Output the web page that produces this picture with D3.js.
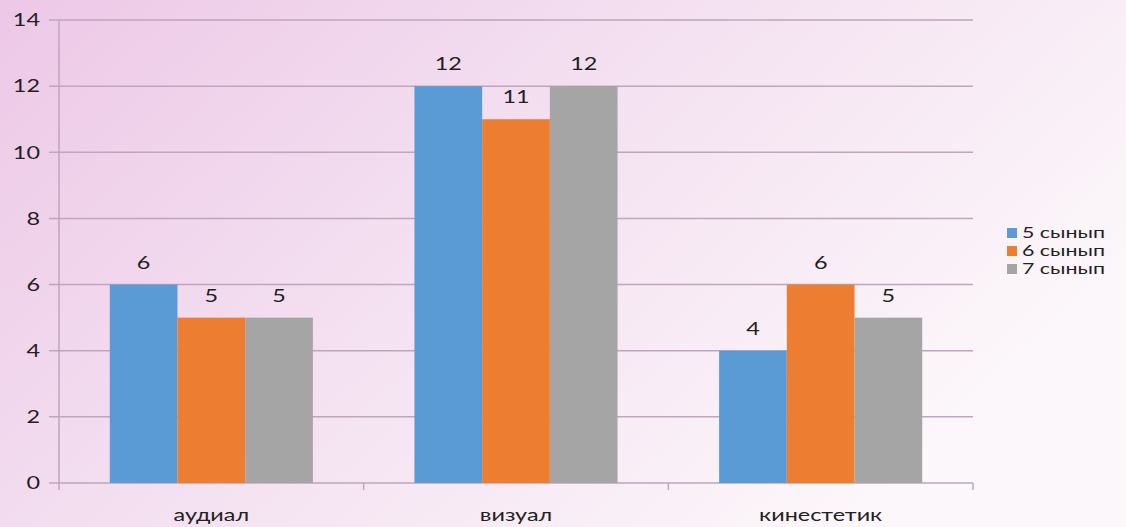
<!DOCTYPE html>
<html>
<head>
<meta charset="utf-8">
<script src="https://cdn.jsdelivr.net/npm/d3@7"></script>
<style>
  html, body { margin: 0; padding: 0; }
  body { width: 1126px; height: 527px; overflow: hidden; }
</style>
</head>
<body>
<div id="chart"></div>
<script>
const categories = ["аудиал", "визуал", "кинестетик"];
const seriesNames = ["5 сынып", "6 сынып", "7 сынып"];
const grade5 = [6, 12, 4];
const grade6 = [5, 11, 6];
const grade7 = [5, 12, 5];
const yTicks = [0, 2, 4, 6, 8, 10, 12, 14];

const colors = ["#5b9bd5", "#ed7d31", "#a5a5a5"];
const series = [grade5, grade6, grade7];

const width = 1126, height = 527;
const margin = { top: 20, right: 153, bottom: 44, left: 59 };
const stretch = 1.3; // the original text looks horizontally widened
const textColor = "#231f22";

const svg = d3.select("#chart").append("svg")
  .attr("width", width)
  .attr("height", height)
  .style("font-family", "Lato, 'Open Sans', sans-serif");

// background gradient (pink on left fading to white on right)
const defs = svg.append("defs");
const grad = defs.append("linearGradient")
  .attr("id", "bg")
  .attr("x1", "0%").attr("y1", "0%")
  .attr("x2", "100%").attr("y2", "50%");
grad.append("stop").attr("offset", "0%").attr("stop-color", "#edc8e7");
grad.append("stop").attr("offset", "45%").attr("stop-color", "#f3def0");
grad.append("stop").attr("offset", "100%").attr("stop-color", "#fcf7fa");
svg.append("rect").attr("width", width).attr("height", height).attr("fill", "url(#bg)");

const x0 = d3.scaleBand()
  .domain(categories)
  .range([margin.left, width - margin.right])
  .padding(0);

const x1 = d3.scaleBand()
  .domain(d3.range(series.length))
  .range([x0.bandwidth() / 6, x0.bandwidth() * 5 / 6])
  .padding(0);

const y = d3.scaleLinear()
  .domain([0, 14])
  .range([height - margin.bottom, margin.top]);

const gridColor = "#bfa5bd";

// place text with horizontal stretch
const place = (sel, fx, fy) => sel.attr("transform", (d, i) => `translate(${fx(d, i)},${fy(d, i)}) scale(${stretch},1)`);

// horizontal gridlines
svg.append("g")
  .selectAll("line")
  .data(yTicks)
  .join("line")
  .attr("x1", margin.left - 10)
  .attr("x2", width - margin.right)
  .attr("y1", d => y(d))
  .attr("y2", d => y(d))
  .attr("stroke", gridColor)
  .attr("stroke-width", 1.5);

// y tick labels
svg.append("g")
  .selectAll("text")
  .data(yTicks)
  .join("text")
  .call(place, () => margin.left - 19, d => y(d))
  .attr("dy", "0.35em")
  .attr("text-anchor", "end")
  .attr("font-size", 18)
  .attr("fill", textColor)
  .text(d => d);

// y axis line
svg.append("line")
  .attr("x1", margin.left).attr("x2", margin.left)
  .attr("y1", y(14)).attr("y2", y(0) + 7)
  .attr("stroke", gridColor)
  .attr("stroke-width", 1.5);

// category boundary ticks
const boundaries = categories.map(c => x0(c)).concat([x0(categories[categories.length - 1]) + x0.bandwidth()]);
svg.append("g")
  .selectAll("line")
  .data(boundaries.slice(1))
  .join("line")
  .attr("x1", d => d).attr("x2", d => d)
  .attr("y1", y(0)).attr("y2", y(0) + 7)
  .attr("stroke", gridColor)
  .attr("stroke-width", 1.5);

// bars
const groups = svg.append("g")
  .selectAll("g")
  .data(categories)
  .join("g")
  .attr("transform", c => `translate(${x0(c)},0)`);

const cells = (c, i) => series.map((s, k) => ({ k, v: s[i] }));

groups.selectAll("rect")
  .data(cells)
  .join("rect")
  .attr("x", d => x1(d.k))
  .attr("width", x1.bandwidth())
  .attr("y", d => y(d.v))
  .attr("height", d => y(0) - y(d.v))
  .attr("fill", d => colors[d.k]);

groups.selectAll("text")
  .data(cells)
  .join("text")
  .call(place, d => x1(d.k) + x1.bandwidth() / 2, d => y(d.v) - 16)
  .attr("text-anchor", "middle")
  .attr("font-size", 18)
  .attr("fill", textColor)
  .text(d => d.v);

// category labels
svg.append("g")
  .selectAll("text")
  .data(categories)
  .join("text")
  .call(place, c => x0(c) + x0.bandwidth() / 2, () => y(0) + 38)
  .attr("text-anchor", "middle")
  .attr("font-size", 18)
  .attr("fill", textColor)
  .text(c => c);

// legend
const legend = svg.append("g")
  .attr("transform", "translate(1007,233)");
const item = legend.selectAll("g")
  .data(seriesNames)
  .join("g")
  .attr("transform", (d, i) => `translate(0,${i * 18})`);
item.append("rect")
  .attr("x", 0).attr("y", -5)
  .attr("width", 10).attr("height", 10)
  .attr("fill", (d, i) => colors[i]);
item.append("text")
  .attr("transform", `translate(15,0) scale(1.38,1)`)
  .attr("dy", "0.35em")
  .attr("font-size", 15.5)
  .attr("fill", textColor)
  .text(d => d);
</script>
</body>
</html>
